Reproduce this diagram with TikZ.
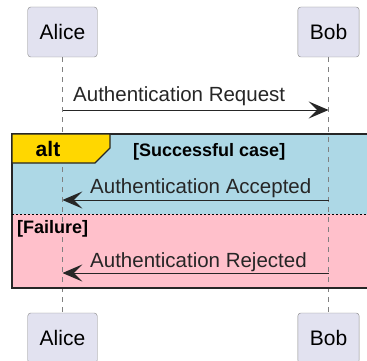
\documentclass[tikz,border=0pt]{standalone}
\usepackage{fontspec}
\setmainfont{Liberation Sans}
\usetikzlibrary{arrows.meta,positioning,calc}
\usepackage{xcolor}
\definecolor{partfill}{HTML}{E2E2F0}
\definecolor{partline}{HTML}{888888}
\definecolor{altgold}{HTML}{FFD700}
\definecolor{okblue}{HTML}{ADD8E6}
\definecolor{failpink}{HTML}{FFC0CB}

\begin{document}
\begin{tikzpicture}[
  x=1pt,y=-1pt,
  actor/.style={draw=partline, fill=partfill, rounded corners=3pt, minimum height=50pt, inner xsep=12pt, font=\fontsize{21}{24}\selectfont},
  lifeline/.style={draw=gray, dash pattern=on 5pt off 5pt, line width=0.6pt},
  msg/.style={-{Stealth[length=7mm,width=6mm,inset=3mm]}, line width=1pt, draw=black!85},
  msgtext/.style={anchor=base west, inner sep=0pt, font=\fontsize{20.5}{24}\selectfont, text=black!85},
  guard/.style={anchor=base west, inner sep=0pt, font=\bfseries\fontsize{18}{22}\selectfont}
]
\useasboundingbox (0,0) rectangle (367,361);
\node[actor] (aliceTop) at (62.5,32) {Alice};
\node[actor] (bobTop) at (328.5,32) {Bob};
\node[actor] (aliceBot) at (62.5,338) {Alice};
\node[actor] (bobBot) at (328.5,338) {Bob};
\fill[okblue] (12,134) rectangle (375,214);
\fill[failpink] (12,214) rectangle (375,288);
\draw[lifeline] (aliceTop) -- (aliceBot);
\draw[lifeline] (bobTop) -- (bobBot);
\draw[line width=2pt, black!85] (12,134) rectangle (375,288);
\draw[line width=0.8pt, dash pattern=on 2pt off 2pt] (12,214) -- (375,214);
\filldraw[fill=altgold, draw=black!85, line width=1.2pt] (12,134) -- (110,134) -- (110,148) -- (95,163) -- (12,163) -- cycle;
\node[font=\bfseries\fontsize{21}{24}\selectfont] (alt) at (48,149) {alt};
\node[guard] (okcase) at (133,156) {[Successful case]};
\node[guard] (failcase) at (17,233) {[Failure]};
\coordinate (req-a) at (aliceTop |- 0,110);
\coordinate (req-b) at (bobTop |- 0,110);
\coordinate (acc-a) at (aliceTop |- 0,200);
\coordinate (acc-b) at (bobTop |- 0,200);
\coordinate (rej-a) at (aliceTop |- 0,273);
\coordinate (rej-b) at (bobTop |- 0,273);
\draw[msg] (req-a) -- (req-b);
\draw[msg] (acc-b) -- (acc-a);
\draw[msg] (rej-b) -- (rej-a);
\node[msgtext] (reqtext) at (73,102) {Authentication Request};
\node[msgtext] (acctext) at (90,193) {Authentication Accepted};
\node[msgtext] (rejtext) at (90,267) {Authentication Rejected};
\end{tikzpicture}
\end{document}
